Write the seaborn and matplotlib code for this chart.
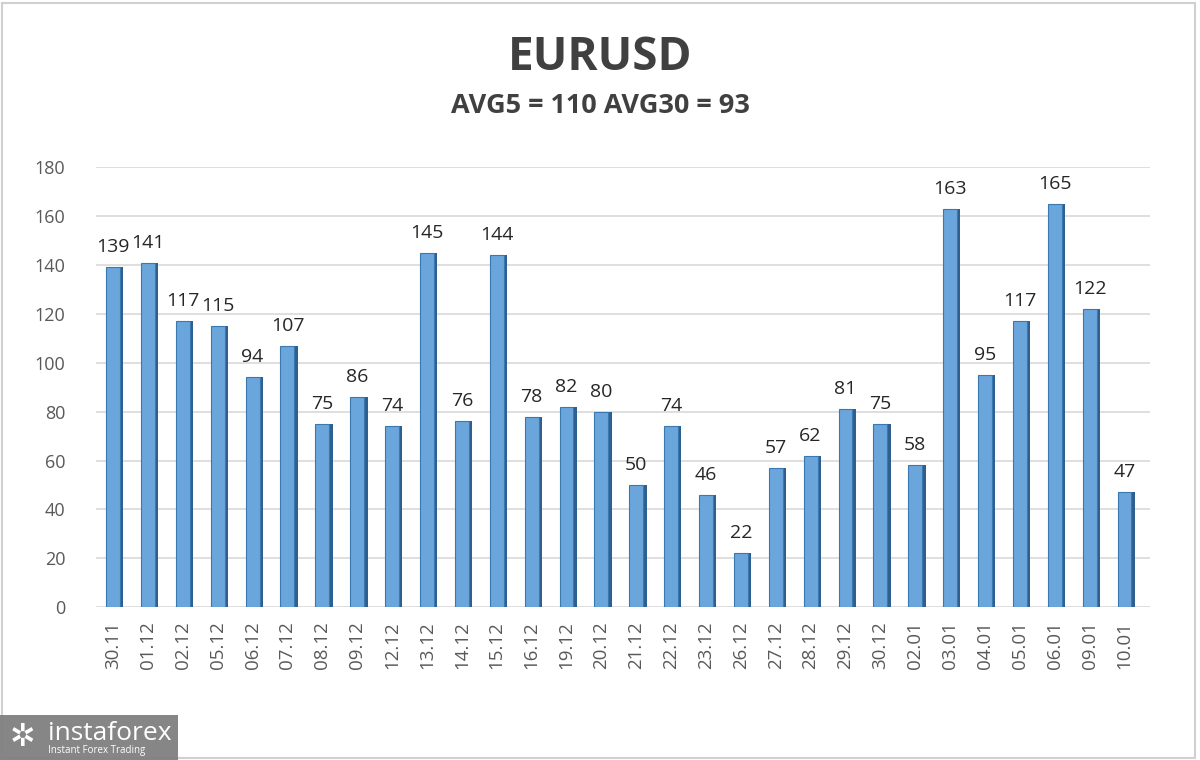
import matplotlib
matplotlib.use("Agg")
import matplotlib.pyplot as plt
import seaborn as sns
import pandas as pd
from matplotlib.patches import Rectangle

dates = ["30.11", "01.12", "02.12", "05.12", "06.12", "07.12", "08.12", "09.12", "12.12", "13.12",
         "14.12", "15.12", "16.12", "19.12", "20.12", "21.12", "22.12", "23.12", "26.12", "27.12",
         "28.12", "29.12", "30.12", "02.01", "03.01", "04.01", "05.01", "06.01", "09.01", "10.01"]
values = [139, 141, 117, 115, 94, 107, 75, 86, 74, 145,
          76, 144, 78, 82, 80, 50, 74, 46, 22, 57,
          62, 81, 75, 58, 163, 95, 117, 165, 122, 47]
title = "EURUSD"
subtitle = "AVG5 = 110 AVG30 = 93"
yticks = [0, 20, 40, 60, 80, 100, 120, 140, 160, 180]

df = pd.DataFrame({"date": dates, "value": values})

sns.set_theme(style="white")
plt.rcParams['font.family'] = ['Open Sans', 'DejaVu Sans']

fig = plt.figure(figsize=(12, 7.6), dpi=100)
ax = fig.add_axes([0.08, 0.201, 0.878, 0.579])

# grid
for t in yticks:
    ax.axhline(t, color="#d9d9d9", lw=1.2, zorder=0)

sns.barplot(data=df, x="date", y="value", color="#6AA6DC", width=0.40,
            saturation=1, edgecolor="#3A78B0", linewidth=0.8, ax=ax, zorder=3)
# darker side face for 3D look
xs = list(range(len(values)))
ax.bar([x + 0.245 for x in xs], values, width=0.1, color="#2F5F8F", zorder=2, linewidth=0)

for x, v in zip(xs, values):
    ax.text(x, v + 4.5, str(v), ha="center", va="bottom", fontsize=14, color="#262626")

ax.set_ylim(0, 180)
ax.set_xlim(-0.49, 29.72)
ax.set_yticks(yticks)
ax.set_yticklabels([str(t) for t in yticks], fontsize=13, color="#595959")
ax.set_xticks(xs)
ax.set_xticklabels(dates, rotation=90, fontsize=13.5, color="#595959")
ax.tick_params(axis="both", length=0, pad=10)
ax.tick_params(axis="y", pad=22)
ax.set_xlabel("")
ax.set_ylabel("")
for s in ax.spines.values():
    s.set_visible(False)

fig.text(0.5, 0.924, title, ha="center", va="center", fontsize=33, fontweight="bold", color="#404040")
fig.text(0.5, 0.86, subtitle, ha="center", va="center", fontsize=19.5, fontweight="bold", color="#404040")

# figure frame
fig.patches.append(Rectangle((0.002, 0.002), 0.994, 0.994, transform=fig.transFigure,
                             fill=False, edgecolor="#d0d0d0", lw=1.5))
# watermark
fig.patches.append(Rectangle((0, 0), 178 / 1200, 45 / 760, transform=fig.transFigure,
                             facecolor="#808080", edgecolor="none", alpha=0.95))
fig.text(48 / 1200, 1 - 733 / 760, "instaforex", fontsize=19, color="white",
         ha="left", va="center")
fig.text(48 / 1200, 1 - 751 / 760, "Instant Forex Trading", fontsize=7, color="white",
         ha="left", va="center")
fig.text(22 / 1200, 1 - 737 / 760, "✲", fontsize=22, color="white", ha="center", va="center",
         family=["DejaVu Sans"])

fig.savefig("out.png", dpi=100)
